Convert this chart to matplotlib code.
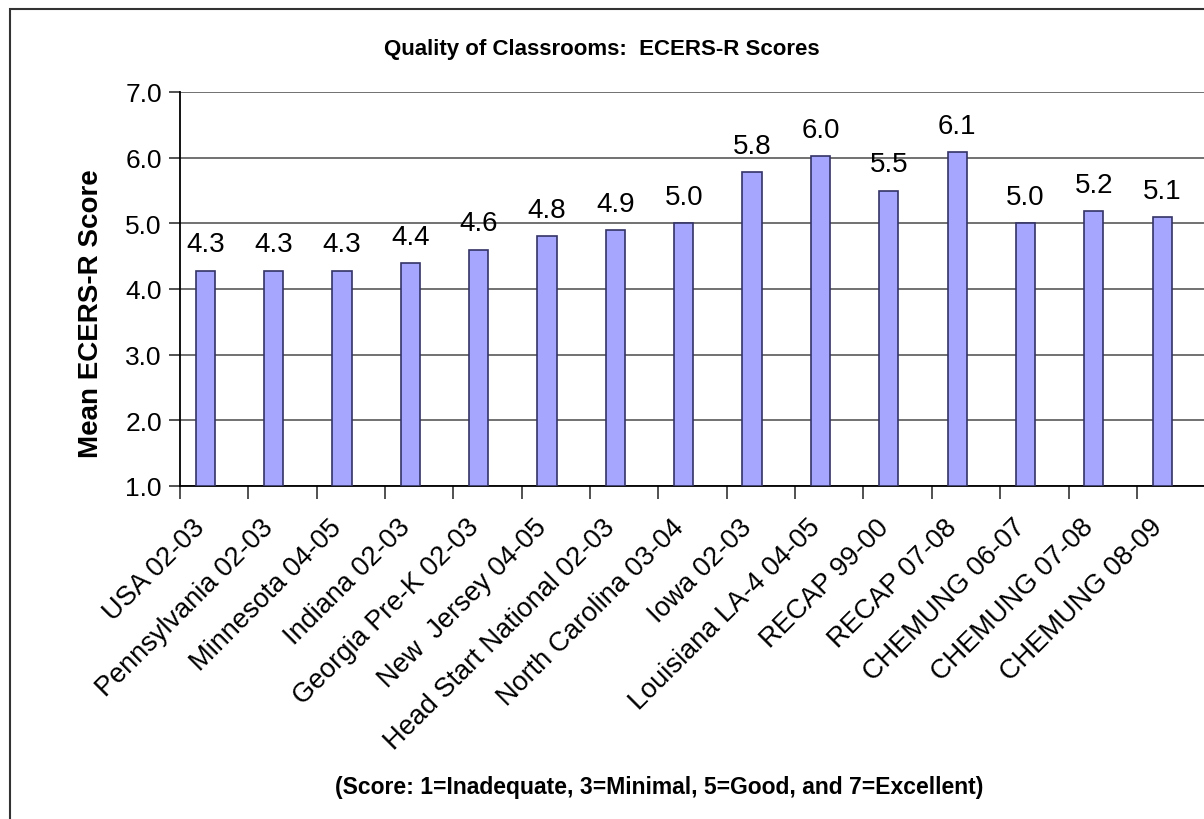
import matplotlib
matplotlib.use("Agg")
import matplotlib.pyplot as plt
import matplotlib.transforms as mtrans
import numpy as np
from matplotlib.patches import Rectangle

categories = ["USA 02-03", "Pennsylvania 02-03", "Minnesota 04-05", "Indiana 02-03",
              "Georgia Pre-K 02-03", "New  Jersey 04-05", "Head Start National 02-03",
              "North Carolina 03-04", "Iowa 02-03", "Louisiana LA-4 04-05",
              "RECAP 99-00", "RECAP 07-08", "CHEMUNG 06-07", "CHEMUNG 07-08", "CHEMUNG 08-09"]
scores = [4.28, 4.28, 4.28, 4.4, 4.6, 4.8, 4.9, 5.0, 5.78, 6.02, 5.5, 6.09, 5.0, 5.19, 5.1]
yticks = [1.0, 2.0, 3.0, 4.0, 5.0, 6.0, 7.0]

plt.rcParams['font.family'] = ['Liberation Sans', 'DejaVu Sans']

fig = plt.figure(figsize=(12.04, 8.2), dpi=100)
fig.patches.append(Rectangle((10/1204, -0.1), 1.2, 1 - 10/820 + 0.1, transform=fig.transFigure,
                             fill=False, edgecolor='#333333', linewidth=1.5))

ax = fig.add_axes([180/1204, 1 - 487/820, 1 - 180/1204 + 0.001, (487 - 93)/820])
n = len(categories)
x = np.arange(n)
offset = -0.13
ax.bar(x + offset, [s - 1.0 for s in scores], bottom=1.0, width=0.28,
       color='#A6A6FF', edgecolor='#333366', linewidth=1.2, zorder=3)
for xi, s in zip(x, scores):
    ax.text(xi + offset, s + 0.2, f"{s:.1f}", ha='center', va='bottom', fontsize=20, zorder=4)

ax.set_xlim(-0.5, n - 0.5)
ax.set_ylim(1.0, 7.0)
ax.set_yticks(yticks)
ax.set_yticklabels([f"{v:.1f}" for v in yticks], fontsize=19)
ax.yaxis.grid(True, color='#666666', linewidth=1.3, zorder=0)
ax.set_axisbelow(True)

ax.set_xticks(x)
ax.set_xticklabels(categories, rotation=45, ha='right', va='top', rotation_mode='anchor', fontsize=19.5)
ax.tick_params(axis='x', length=0, pad=20)
ax.set_xticks(np.arange(n + 1) - 0.5, minor=True)
ax.tick_params(axis='x', which='minor', length=9, width=1.2, color='#333333')
ax.tick_params(axis='y', length=8, width=1.2, color='#333333', pad=5)
shift = mtrans.ScaledTranslation(-22/100, 0, fig.dpi_scale_trans)
for lbl in ax.get_xticklabels():
    lbl.set_transform(lbl.get_transform() + shift)

for sp in ['top', 'right']:
    ax.spines[sp].set_visible(False)
ax.spines['left'].set_color('black')
ax.spines['left'].set_linewidth(1.3)
ax.spines['bottom'].set_color('black')
ax.spines['bottom'].set_linewidth(1.3)

fig.text(91/1204, 1 - 314/820, "Mean ECERS-R Score", rotation=90, ha='center', va='center',
         fontsize=20, fontweight='bold')

fig.text(602/1204, 1 - 50/820, "Quality of Classrooms:  ECERS-R Scores", ha='center', va='center',
         fontsize=16, fontweight='bold')
fig.text(659/1204, 1 - 788/820, "(Score: 1=Inadequate, 3=Minimal, 5=Good, and 7=Excellent)",
         ha='center', va='center', fontsize=16.5, fontweight='bold')

fig.savefig("out.png", dpi=100)
